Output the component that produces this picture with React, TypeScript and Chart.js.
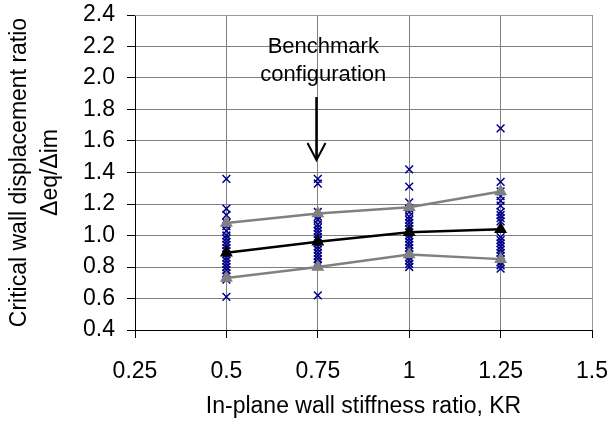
import React, { useEffect, useRef } from "react";
import { Chart, registerables } from "chart.js";

Chart.register(...registerables);

// ---- data ----
const KR = [0.5, 0.75, 1, 1.25];
const runsKR050 = [1.36, 1.17, 1.13, 1.08, 1.06, 1.03, 1.0, 0.98, 0.96, 0.94, 0.92, 0.9, 0.88, 0.86, 0.84, 0.82, 0.8, 0.78, 0.76, 0.74, 0.72, 0.61];
const runsKR075 = [1.36, 1.33, 1.15, 1.12, 1.1, 1.07, 1.05, 1.03, 1.01, 0.99, 0.97, 0.95, 0.93, 0.91, 0.89, 0.87, 0.85, 0.83, 0.81, 0.62];
const runsKR100 = [1.42, 1.31, 1.21, 1.17, 1.15, 1.12, 1.1, 1.08, 1.06, 1.04, 1.02, 1.0, 0.98, 0.96, 0.94, 0.92, 0.9, 0.88, 0.86, 0.84, 0.82, 0.8];
const runsKR125 = [1.68, 1.34, 1.28, 1.25, 1.22, 1.19, 1.15, 1.13, 1.11, 1.09, 0.99, 0.97, 0.95, 0.93, 0.91, 0.89, 0.87, 0.85, 0.83, 0.81, 0.79];
const meanRatio = [0.89, 0.96, 1.02, 1.04];
const upperRatio = [1.08, 1.14, 1.18, 1.28];
const lowerRatio = [0.73, 0.8, 0.88, 0.85];

const xTicks = [0.25, 0.5, 0.75, 1, 1.25, 1.5];
const xTickLabels = ["0.25", "0.5", "0.75", "1", "1.25", "1.5"];
const yTicks = [0.4, 0.6, 0.8, 1.0, 1.2, 1.4, 1.6, 1.8, 2.0, 2.2, 2.4];
const yTickLabels = ["0.4", "0.6", "0.8", "1.0", "1.2", "1.4", "1.6", "1.8", "2.0", "2.2", "2.4"];

const xTitle = "In-plane wall stiffness ratio, KR";
const yTitle = ["Critical wall displacement ratio", "\u0394eq/\u0394im"];
const noteLines = ["Benchmark", "configuration"];
const noteX = 0.765;
const noteY = [2.197, 2.02];
const arrowX = 0.75;
const arrowFromY = 1.879;
const arrowToY = 1.479;

const FONT = "'Liberation Sans', Arial, sans-serif";
const FS = 23;

export default function App() {
  const ref = useRef<HTMLCanvasElement | null>(null);

  useEffect(() => {
    const canvas = ref.current;
    if (!canvas) return;
    const columns = [runsKR050, runsKR075, runsKR100, runsKR125];
    const scatterPts: { x: number; y: number }[] = [];
    columns.forEach((col, i) => col.forEach((v) => scatterPts.push({ x: KR[i], y: v })));
    const toPts = (arr: number[]) => arr.map((v, i) => ({ x: KR[i], y: v }));

    const framePlugin = {
      id: "frameAndNote",
      afterDraw(chart: any) {
        const ctx = chart.ctx;
        const { left, right, top, bottom } = chart.chartArea;
        const xs = chart.scales.x;
        const ys = chart.scales.y;
        ctx.save();
        ctx.strokeStyle = "#999999";
        ctx.lineWidth = 1;
        ctx.setLineDash([]);
        ctx.beginPath();
        ctx.moveTo(left, top + 0.5);
        ctx.lineTo(right + 0.5, top + 0.5);
        ctx.lineTo(right + 0.5, bottom);
        ctx.stroke();
        ctx.fillStyle = "#000";
        ctx.font = `${FS - 1}px ${FONT}`;
        ctx.textAlign = "center";
        ctx.textBaseline = "middle";
        noteLines.forEach((t, i) => {
          ctx.fillText(t, xs.getPixelForValue(noteX), ys.getPixelForValue(noteY[i]));
        });
        const ax = Math.round(xs.getPixelForValue(arrowX)) - 1.5;
        const y0 = ys.getPixelForValue(arrowFromY);
        const y1 = ys.getPixelForValue(arrowToY);
        ctx.strokeStyle = "#000";
        ctx.lineWidth = 2.5;
        ctx.beginPath();
        ctx.moveTo(ax, y0);
        ctx.lineTo(ax, y1 - 1);
        ctx.stroke();
        ctx.lineWidth = 2;
        ctx.beginPath();
        ctx.moveTo(ax - 9, y1 - 17);
        ctx.lineTo(ax, y1);
        ctx.lineTo(ax + 9, y1 - 17);
        ctx.stroke();
        ctx.restore();
      },
    };

    const gridOpts: any = {
      color: "#808080",
      lineWidth: 1,
      borderDash: [7, 5],
      drawTicks: true,
      tickLength: 8,
      tickColor: "#000",
      tickBorderDash: [],
    };

    const chart = new Chart(canvas, {
      type: "scatter",
      data: {
        datasets: [
          {
            label: "mean",
            data: toPts(meanRatio),
            showLine: true,
            borderColor: "#000000",
            backgroundColor: "#000000",
            borderWidth: 2.5,
            pointStyle: "triangle",
            pointRadius: 5,
            order: 0,
          },
          {
            label: "upper",
            data: toPts(upperRatio),
            showLine: true,
            borderColor: "#808080",
            backgroundColor: "#808080",
            borderWidth: 2.5,
            pointStyle: "triangle",
            pointRadius: 5,
            order: 1,
          },
          {
            label: "lower",
            data: toPts(lowerRatio),
            showLine: true,
            borderColor: "#808080",
            backgroundColor: "#808080",
            borderWidth: 2.5,
            pointStyle: "triangle",
            pointRadius: 5,
            order: 1,
          },
          {
            label: "runs",
            data: scatterPts,
            showLine: false,
            borderColor: "#00008B",
            backgroundColor: "#00008B",
            borderWidth: 1.5,
            pointStyle: "crossRot",
            pointRadius: 5.5,
            order: 2,
          },
        ],
      },
      options: {
        animation: false,
        responsive: false,
        devicePixelRatio: 1,
        layout: { padding: { top: 15, right: 18, left: 0, bottom: 0 } },
        plugins: { legend: { display: false }, tooltip: { enabled: false } },
        scales: {
          x: {
            type: "linear",
            min: 0.25,
            max: 1.5,
            afterBuildTicks: (s: any) => {
              s.ticks = xTicks.map((v) => ({ value: v }));
            },
            afterFit: (s: any) => {
              s.height = 96;
              s.paddingLeft = 0;
              s.paddingRight = 0;
            },
            ticks: {
              color: "#000",
              font: { family: FONT, size: FS },
              padding: 20,
              maxRotation: 0,
              autoSkip: false,
              callback: (v: any) => {
                const i = xTicks.indexOf(Number(v));
                return i >= 0 ? xTickLabels[i] : "";
              },
            },
            grid: gridOpts,
            border: { display: true, color: "#000", width: 1 },
            title: {
              display: true,
              text: xTitle,
              color: "#000",
              font: { family: FONT, size: FS },
              padding: { top: 8, bottom: 6 },
            },
          },
          y: {
            type: "linear",
            min: 0.4,
            max: 2.4,
            afterBuildTicks: (s: any) => {
              s.ticks = yTicks.map((v) => ({ value: v }));
            },
            afterFit: (s: any) => {
              s.width = 135;
              s.paddingTop = 0;
              s.paddingBottom = 0;
            },
            ticks: {
              color: "#000",
              font: { family: FONT, size: FS },
              padding: 12,
              autoSkip: false,
              callback: (v: any) => {
                const i = yTicks.findIndex((t) => Math.abs(t - Number(v)) < 1e-6);
                return i >= 0 ? yTickLabels[i] : "";
              },
            },
            grid: gridOpts,
            border: { display: true, color: "#000", width: 1 },
            title: {
              display: true,
              text: yTitle,
              color: "#000",
              font: { family: FONT, size: FS, lineHeight: 1.35 },
              padding: { top: 4, bottom: 4 },
            },
          },
        },
      } as any,
      plugins: [framePlugin],
    });
    return () => chart.destroy();
  }, []);

  return (
    <div style={{ position: "fixed", left: 0, top: 0, width: 610, height: 426, background: "#fff" }}>
      <canvas ref={ref} width={610} height={426} style={{ width: 610, height: 426 }} />
    </div>
  );
}
